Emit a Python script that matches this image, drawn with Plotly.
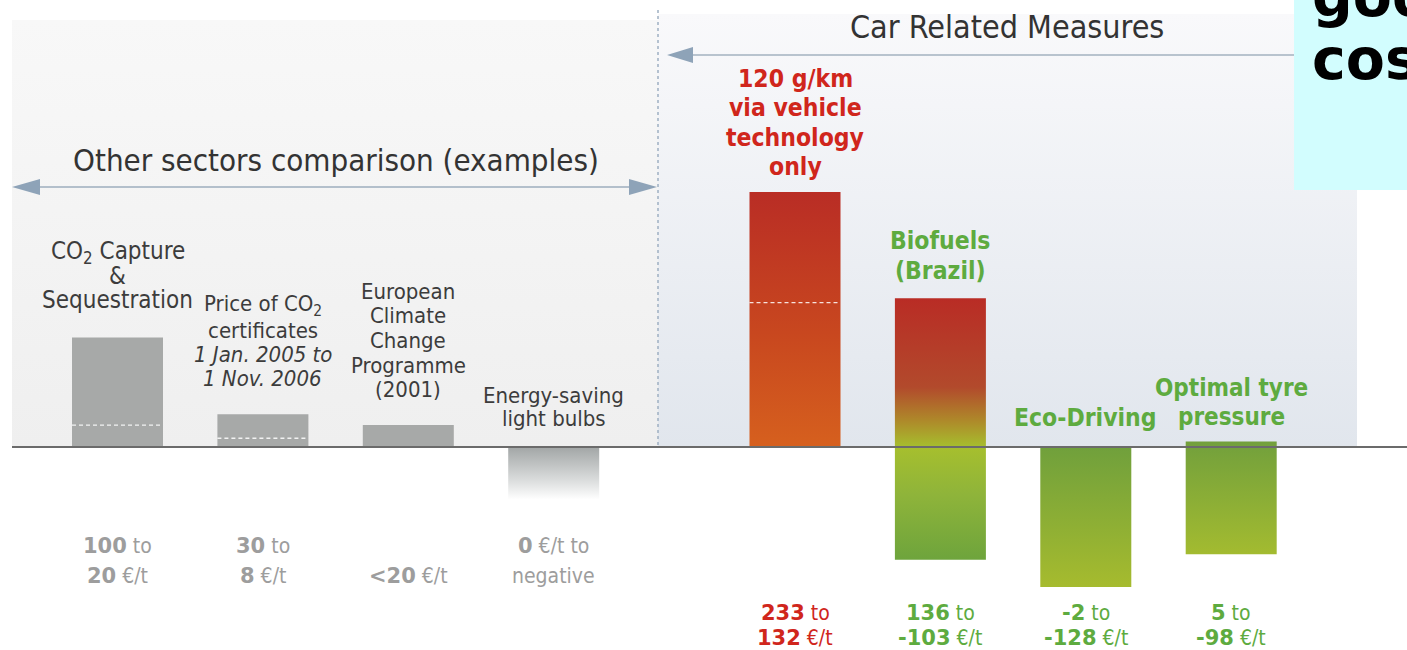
import re
import plotly.graph_objects as go

# ---------------- data ----------------
categories = [
    "CO<sub>2</sub> Capture & Sequestration",
    "Price of CO<sub>2</sub> certificates",
    "European Climate Change Programme (2001)",
    "Energy-saving light bulbs",
    "120 g/km via vehicle technology only",
    "Biofuels (Brazil)",
    "Eco-Driving",
    "Optimal tyre pressure",
]
groups = ["other", "other", "other", "other", "car", "car", "car", "car"]
cost_high = [100, 30, 20, 0, 233, 136, -2, 5]          # €/t
cost_low = [20, 8, None, -48, 132, -103, -128, -98]    # €/t (-48: "negative", estimated depth)
value_top = ["100 to", "30 to", "", "0 €/t to", "233 to", "136 to", "-2 to", "5 to"]
value_bottom = ["20 €/t", "8 €/t", "<20 €/t", "negative", "132 €/t", "-103 €/t", "-128 €/t", "-98 €/t"]

# ---------------- geometry helpers (pixel layout) ----------------
W, H = 1407, 650
ZERO_PX = 447.0
PX_PER_UNIT = 1.094


def Y(py):
    return (ZERO_PX - py) / PX_PER_UNIT


Y_MAX = Y(0)
Y_MIN = Y(H)

GROUP_START = {"other": 117.5, "car": 795.0}
STEP = 145.4
BAR_W = 91

FONT = "DejaVu Sans Condensed, Liberation Sans Narrow, Arial Narrow, sans-serif"
DARK = "#3c3c3c"
RED = "#d0261c"
GREEN = "#5eab3f"
GRAY_TXT = "#9d9d9d"

styles = [
    dict(solid="#a7a9a8"),
    dict(solid="#a7a9a8"),
    dict(solid="#a7a9a8"),
    dict(scale=[[0, "#ffffff"], [0.35, "#dcdede"], [1, "#a2a6a6"]]),
    dict(scale=[[0, "#d6601e"], [0.45, "#c8471f"], [1, "#b92d25"]]),
    dict(scale=[[0, "#6ea43c"], [0.25, "#8fb43a"], [0.43, "#a6bf2e"],
                [0.53, "#ae8a2a"], [0.66, "#b24a2c"], [1, "#b92c25"]]),
    dict(scale=[[0, "#a6bb2e"], [1, "#70a03c"]]),
    dict(scale=[[0, "#a3bb30"], [1, "#72a03c"]]),
]

fig = go.Figure()

# ---------------- background panels ----------------
def panel(x0, x1, py0, py1, c_top, c_bot):
    y0, y1 = Y(py1), Y(py0)
    fig.add_trace(go.Scatter(
        x=[x0, x1, x1, x0, x0], y=[y0, y0, y1, y1, y0],
        mode="lines", line=dict(width=0), fill="toself",
        fillgradient=dict(type="vertical", start=y0, stop=y1,
                          colorscale=[[0, c_bot], [1, c_top]]),
        hoverinfo="skip", showlegend=False))


panel(12, 658, 20, ZERO_PX, "#f8f8f8", "#efefef")
panel(658, 1357, 14, ZERO_PX, "#f9f9fb", "#e1e6ed")

# ---------------- bars ----------------
idx_in_group = {"other": 0, "car": 0}
centers = []
for i, cat in enumerate(categories):
    g = groups[i]
    c = GROUP_START[g] + STEP * idx_in_group[g]
    idx_in_group[g] += 1
    centers.append(c)
    hi = cost_high[i]
    lo = cost_low[i]
    vals = [v for v in (hi, lo, 0) if v is not None]
    top, bot = max(vals), min(vals)
    xs = [c - BAR_W / 2, c + BAR_W / 2, c + BAR_W / 2, c - BAR_W / 2, c - BAR_W / 2]
    ys = [bot, bot, top, top, bot]
    st = styles[i]
    kw = dict(x=xs, y=ys, mode="lines", line=dict(width=0), fill="toself",
              hoverinfo="skip", showlegend=False, name=cat)
    if "solid" in st:
        kw["fillcolor"] = st["solid"]
    else:
        kw["fillgradient"] = dict(type="vertical", start=bot, stop=top, colorscale=st["scale"])
    fig.add_trace(go.Scatter(**kw))
    # dashed marker at the lower end of a positive cost range
    if lo is not None and lo > 0:
        fig.add_trace(go.Scatter(
            x=[c - BAR_W / 2, c + BAR_W / 2], y=[lo, lo], mode="lines",
            line=dict(color="rgba(255,255,255,0.85)", width=1.3, dash="4px,3px"),
            hoverinfo="skip", showlegend=False))

shapes = []
annotations = []

# divider & baseline
shapes.append(dict(type="line", xref="x", yref="y", x0=658, x1=658, y0=Y(10), y1=Y(ZERO_PX),
                   line=dict(color="#9fb0c2", width=1.5, dash="dot"), layer="above"))
shapes.append(dict(type="line", xref="x", yref="y", x0=12, x1=W + 20, y0=0, y1=0,
                   line=dict(color="#6b6b6b", width=2), layer="above"))


def tri(tip_x, back_x, py, half=8, color="#8ea3b8"):
    yc = Y(py)
    dy = half / PX_PER_UNIT
    shapes.append(dict(type="path", xref="x", yref="y",
                       path=f"M {tip_x},{yc} L {back_x},{yc + dy} L {back_x},{yc - dy} Z",
                       fillcolor=color, line=dict(width=0), layer="above"))


# other sectors double arrow
shapes.append(dict(type="line", xref="x", yref="y", x0=36, x1=634, y0=Y(187), y1=Y(187),
                   line=dict(color="#b3bfcb", width=2), layer="above"))
tri(12, 40, 187)
tri(657, 629, 187)
# car related arrow
shapes.append(dict(type="line", xref="x", yref="y", x0=688, x1=1294, y0=Y(55), y1=Y(55),
                   line=dict(color="#b8c3ce", width=2), layer="above"))
tri(667, 693, 55)

# cyan box
shapes.append(dict(type="rect", xref="x", yref="y", x0=1294, x1=W + 30, y0=Y(190), y1=Y(-5),
                   fillcolor="#d2fdfe", line=dict(width=0), layer="above"))


def txt(s, x, py, size, color, bold=False, xanchor="center", family=FONT):
    annotations.append(dict(text=s, x=x, y=Y(py), xref="x", yref="y", showarrow=False,
                            xanchor=xanchor, yanchor="middle",
                            font=dict(family=family, size=size, color=color,
                                      weight="bold" if bold else "normal")))


# headings
txt("Car Related Measures", 1007, 27, 32, "#333333")
txt("Other sectors comparison (examples)", 336, 160, 31, "#333333")

# category labels (one annotation per line for tight leading)
cat_lines = [
    (["CO<sub>2</sub> Capture", "&", "Sequestration"], [252, 276, 300], 24, DARK, False),
    (["Price of CO<sub>2</sub>", "certificates", "<i>1 Jan. 2005 to</i>", "<i>1 Nov. 2006</i>"],
     [305, 330, 354, 378], 22, DARK, False),
    (["European", "Climate", "Change", "Programme", "(2001)"], [291, 315, 340, 365, 389], 22, DARK, False),
    (["Energy-saving", "light bulbs"], [395, 418], 22, DARK, False),
    (["120 g/km", "via vehicle", "technology", "only"], [78, 107, 137, 166], 24.5, RED, True),
    (["Biofuels", "(Brazil)"], [240, 270], 24.5, GREEN, True),
    (["Eco-Driving"], [417], 24.5, GREEN, True),
    (["Optimal tyre", "pressure"], [388, 417], 24, GREEN, True),
]
for i, (lines, pys, size, color, bold) in enumerate(cat_lines):
    for s, py in zip(lines, pys):
        txt(s, centers[i], py, size, color, bold)


def boldnum(s):
    return re.sub(r"([<\-]?\d+)",
                  r'<span style="font-family:DejaVu Sans;font-weight:bold">\1</span>', s)


for i in range(len(categories)):
    if groups[i] == "other":
        color, p1, p2, size = GRAY_TXT, 546, 576, 21
    else:
        color, p1, p2, size = (RED if i == 4 else GREEN), 613, 638, 21
    if value_top[i]:
        txt(boldnum(value_top[i]), centers[i], p1, size, color)
    txt(boldnum(value_bottom[i]), centers[i], p2, size, color)

# cyan box text (cut off at the page edge)
for s, py in [("good", -4), ("cost", 59)]:
    annotations.append(dict(text=s, x=1310 / W, y=1 - py / H, xref="paper", yref="paper",
                            showarrow=False, xanchor="left", yanchor="middle",
                            font=dict(family="DejaVu Sans", size=57, color="#000000", weight="bold")))

fig.update_layout(
    width=W, height=H, margin=dict(l=0, r=0, t=0, b=0),
    paper_bgcolor="white", plot_bgcolor="white",
    xaxis=dict(range=[0, W], visible=False, fixedrange=True),
    yaxis=dict(range=[Y_MIN, Y_MAX], visible=False, fixedrange=True),
    shapes=shapes, annotations=annotations, showlegend=False,
)

fig.write_html(
    "out.html",
    config={"displayModeBar": False},
    post_script="document.body.style.margin='0';document.documentElement.style.overflow='hidden';",
)
